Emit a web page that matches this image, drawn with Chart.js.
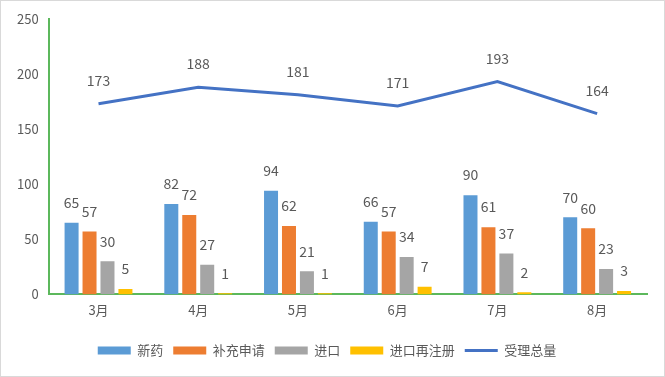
<!DOCTYPE html>
<html>
<head>
<meta charset="utf-8">
<script src="https://cdn.jsdelivr.net/npm/chart.js@4"></script>
<style>
  html, body { margin: 0; padding: 0; background: #fff; }
  #wrap { position: relative; width: 663px; height: 375px; border: 1px solid #d9d9d9; }
</style>
</head>
<body>
<div id="wrap"><canvas id="chart"></canvas></div>
<script>
// 月份
const months = ['3月', '4月', '5月', '6月', '7月', '8月'];
// 各类受理数量
const xinyao = [65, 82, 94, 66, 90, 70];
const buchong = [57, 72, 62, 57, 61, 60];
const jinkou = [30, 27, 21, 34, 37, 23];
const zaizhuce = [5, 1, 1, 7, 2, 3];
const zongliang = [173, 188, 181, 171, 193, 164];
const yTicks = [0, 50, 100, 150, 200, 250];

const textColor = '#595959';
const fontFamily = "'Noto Sans CJK SC', 'Noto Sans', sans-serif";

// 数值标签
const valueLabels = {
    id: 'valueLabels',
    afterDatasetsDraw(chart) {
        const ctx = chart.ctx;
        ctx.save();
        ctx.font = '14px ' + fontFamily;
        ctx.fillStyle = textColor;
        ctx.textAlign = 'center';
        ctx.textBaseline = 'middle';
        chart.data.datasets.forEach((ds, i) => {
            const meta = chart.getDatasetMeta(i);
            meta.data.forEach((el, j) => {
                const off = ds.type === 'line' ? 23 : 20;
                ctx.fillText(String(ds.data[j]), el.x, el.y - off);
            });
        });
        ctx.restore();
    }
};

new Chart(document.getElementById('chart'), {
    data: {
        labels: months,
        datasets: [
            { type: 'bar', label: '新药', data: xinyao, backgroundColor: '#5b9bd5', order: 1 },
            { type: 'bar', label: '补充申请', data: buchong, backgroundColor: '#ed7d31', order: 1 },
            { type: 'bar', label: '进口', data: jinkou, backgroundColor: '#a5a5a5', order: 1 },
            { type: 'bar', label: '进口再注册', data: zaizhuce, backgroundColor: '#ffc000', order: 1 },
            { type: 'line', label: '受理总量', data: zongliang, borderColor: '#4472c4', backgroundColor: '#4472c4',
              borderWidth: 3, pointRadius: 0, tension: 0, order: 0 }
        ]
    },
    options: {
        responsive: true,
        maintainAspectRatio: false,
        animation: false,
        layout: { padding: { top: 12, right: 17, left: 6, bottom: 9 } },
        datasets: {
            bar: { categoryPercentage: 0.72, barPercentage: 0.78 }
        },
        scales: {
            x: {
                afterFit(axis) { axis.height += 8; },
                grid: { display: false, drawTicks: false },
                border: { color: '#5cb85c', width: 2 },
                ticks: { color: textColor, font: { size: 13, family: fontFamily }, padding: 8 }
            },
            y: {
                min: 0, max: 250,
                afterBuildTicks(axis) { axis.ticks = yTicks.map(v => ({ value: v })); },
                grid: { display: false, drawTicks: false },
                border: { color: '#5cb85c', width: 2 },
                ticks: { color: textColor, font: { size: 13, family: fontFamily }, padding: 10 }
            }
        },
        plugins: {
            legend: {
                position: 'bottom',
                labels: {
                    color: textColor,
                    font: { size: 13, family: fontFamily },
                    usePointStyle: true,
                    pointStyleWidth: 33,
                    boxHeight: 8,
                    padding: 10,
                    generateLabels(chart) {
                        return chart.data.datasets.map((ds, i) => ({
                            text: ds.label,
                            fillStyle: ds.backgroundColor,
                            strokeStyle: ds.type === 'line' ? ds.borderColor : ds.backgroundColor,
                            lineWidth: ds.type === 'line' ? 3 : 0,
                            pointStyle: ds.type === 'line' ? 'line' : 'rect',
                            fontColor: textColor,
                            hidden: false,
                            datasetIndex: i
                        }));
                    }
                }
            },
            tooltip: { enabled: false }
        }
    },
    plugins: [valueLabels]
});
</script>
</body>
</html>
